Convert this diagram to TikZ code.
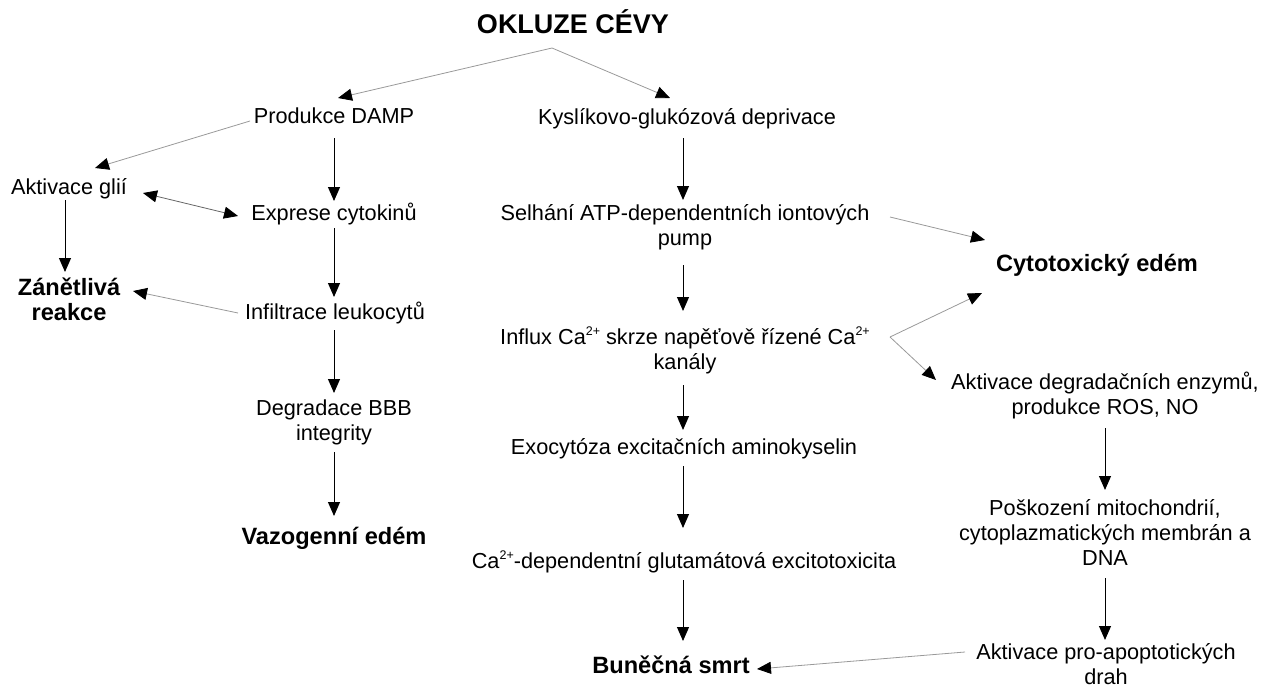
\documentclass[tikz,border=0pt]{standalone}
\usepackage{fontspec}
\setmainfont{Liberation Sans}
\usetikzlibrary{arrows.meta}
\newcommand\spp[1]{\raisebox{0.42em}{\fontsize{12.5}{12.5}\selectfont #1}}
\tikzset{
  txt/.style={inner sep=0pt, align=center, font=\fontsize{21.7}{25}\selectfont},
  btxt/.style={inner sep=0pt, align=center, font=\fontsize{23.6}{25}\selectfont\bfseries},
  ttl/.style={inner sep=0pt, align=center, font=\fontsize{27}{30}\selectfont\bfseries},
  tip/.style={-{Triangle[width=12pt,length=14pt,color=black]}},
  blk/.style={tip, draw=black, line width=1pt},
  gry/.style={tip, draw=black!40, line width=0.8pt},
  dgry/.style={{Triangle[width=12pt,length=14pt,color=black]}-{Triangle[width=12pt,length=14pt,color=black]}, draw=black!60, line width=0.8pt},
}
\begin{document}
\begin{tikzpicture}[x=1pt,y=-1pt]
\useasboundingbox (0,0) rectangle (1271,688);
% nodes
\node[ttl]  (okl)  at (573,22)    {OKLUZE CÉVY};
\node[txt]  (dam)  at (334,116)   {Produkce DAMP};
\node[txt]  (kys)  at (687,119)   {Kyslíkovo-glukózová deprivace};
\node[txt]  (gli)  at (69,189)    {Aktivace glií};
\node[txt]  (cyt)  at (334,214)   {Exprese cytokinů};
\node[txt]  (atp)  at (685,227.5) {Selhání ATP-dependentních iontových\\pump};
\node[btxt] (ctx)  at (1097,265)  {Cytotoxický edém};
\node[btxt] (zan)  at (69,299.5)  {Zánětlivá\\reakce};
\node[txt]  (inf)  at (335,313)   {Infiltrace leukocytů};
\node[txt]  (ca)   at (685,350.5) {Influx Ca\spp{2+} skrze napěťově řízené Ca\spp{2+}\\kanály};
\node[txt]  (enz)  at (1105,395.5){Aktivace degradačních enzymů,\\produkce ROS, NO};
\node[txt]  (bbb)  at (334,422.5) {Degradace BBB\\integrity};
\node[txt]  (exo)  at (684,449)   {Exocytóza excitačních aminokyselin};
\node[btxt] (vaz)  at (334,538)   {Vazogenní edém};
\node[txt]  (poz)  at (1105,533)  {Poškození mitochondrií,\\cytoplazmatických membrán a\\DNA};
\node[txt]  (glu)  at (684,562)   {Ca\spp{2+}-dependentní glutamátová excitotoxicita};
\node[txt]  (apo)  at (1106,664)  {Aktivace pro-apoptotických\\drah};
\node[btxt] (smrt) at (671,665)   {Buněčná smrt};
% connectors
\coordinate (apex) at ([shift={(-21,26)}]okl.center);
\draw[gry] (apex) -- ([shift={(4,-18)}]dam.center);
\draw[gry] (apex) -- ([shift={(-17,-21)}]kys.center);
\draw[gry] ([shift={(-84,5)}]dam.center) -- ([shift={(26,-21)}]gli.center);
\draw[blk] ([shift={(0,22)}]dam.center) -- ([shift={(0,-13)}]cyt.center);
\draw[dgry] ([shift={(74,4)}]gli.center) -- ([shift={(-96,2)}]cyt.center);
\draw[blk] ([shift={(-4,11)}]gli.center) -- ([shift={(-4,-27.5)}]zan.center);
\draw[blk] ([shift={(0,14)}]cyt.center) -- ([shift={(-1,-16)}]inf.center);
\draw[gry] ([shift={(-97,0)}]inf.center) -- ([shift={(64,-8.5)}]zan.center);
\draw[blk] ([shift={(-1,17)}]inf.center) -- ([shift={(0,-29.5)}]bbb.center);
\draw[blk] ([shift={(0,29.5)}]bbb.center) -- ([shift={(0,-22)}]vaz.center);
\draw[blk] ([shift={(-4,19)}]kys.center) -- ([shift={(-2,-27.5)}]atp.center);
\draw[blk] ([shift={(-2,37.5)}]atp.center) -- ([shift={(-2,-39.5)}]ca.center);
\draw[blk] ([shift={(-2,34.5)}]ca.center) -- ([shift={(-1,-19)}]exo.center);
\draw[blk] ([shift={(-1,17)}]exo.center) -- ([shift={(-1,-34)}]glu.center);
\draw[blk] ([shift={(-1,18)}]glu.center) -- ([shift={(12,-24)}]smrt.center);
\draw[gry] ([shift={(205,-10.5)}]atp.center) -- ([shift={(-112,-25)}]ctx.center);
\coordinate (fork) at ([shift={(205,-13.5)}]ca.center);
\draw[gry] (fork) -- ([shift={(-115,28)}]ctx.center);
\draw[gry] (fork) -- ([shift={(-169,-15.5)}]enz.center);
\draw[blk] ([shift={(0,32.5)}]enz.center) -- ([shift={(0,-43)}]poz.center);
\draw[blk] ([shift={(0,45)}]poz.center) -- ([shift={(-1,-24)}]apo.center);
\draw[gry] ([shift={(-141,-12)}]apo.center) -- ([shift={(86,4)}]smrt.center);
\end{tikzpicture}
\end{document}
